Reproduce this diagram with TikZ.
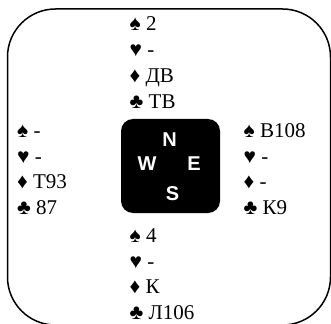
\documentclass[tikz,border=0pt]{standalone}
\usepackage{fontspec}
\setmainfont{Liberation Serif}
\newfontfamily\compassfont{Liberation Sans}

\tikzset{
	card/.style={anchor=base west, inner sep=0pt, font=\fontsize{21}{24}\selectfont},
	wind/.style={anchor=base, inner sep=0pt, text=white, font=\compassfont\fontsize{20}{22}\bfseries}
}

\begin{document}
\begin{tikzpicture}[x=1pt, y=-1pt]
		\useasboundingbox (0, 0) rectangle (331, 323);
		% table and compass
		\draw[line width=1.5pt, rounded corners=48pt] (7.5, 9) rectangle (330.5, 325);
		\fill[rounded corners=12pt] (121, 119) rectangle (220, 213);
		\node[wind] (lN) at (169.5, 146.7) {N};
		\node[wind] (lW) at (147, 170.7) {W};
		\node[wind] (lE) at (194, 170.7) {E};
		\node[wind] (lS) at (172.5, 200) {S};
		% north
		\foreach \t [count=\i] in {{♠ 2}, {♥ -}, {♦ ДВ}, {♣ ТВ}}{
			\node[card] (north\i) at (129.5, 5.2 + \i*25.8) {\t};
		}
		% west
		\foreach \t [count=\i] in {{♠ -}, {♥ -}, {♦ Т93}, {♣ 87}}{
			\node[card] (west\i) at (17, 111.6 + \i*25.7) {\t};
		}
		% east
		\foreach \t [count=\i] in {{♠ В108}, {♥ -}, {♦ -}, {♣ К9}}{
			\node[card] (east\i) at (243.5, 111.6 + \i*25.7) {\t};
		}
		% south
		\foreach \t [count=\i] in {{♠ 4}, {♥ -}, {♦ К}, {♣ Л106}}{
			\node[card] (south\i) at (129.5, 216.6 + \i*25.7) {\t};
		}
	\end{tikzpicture}
\end{document}
